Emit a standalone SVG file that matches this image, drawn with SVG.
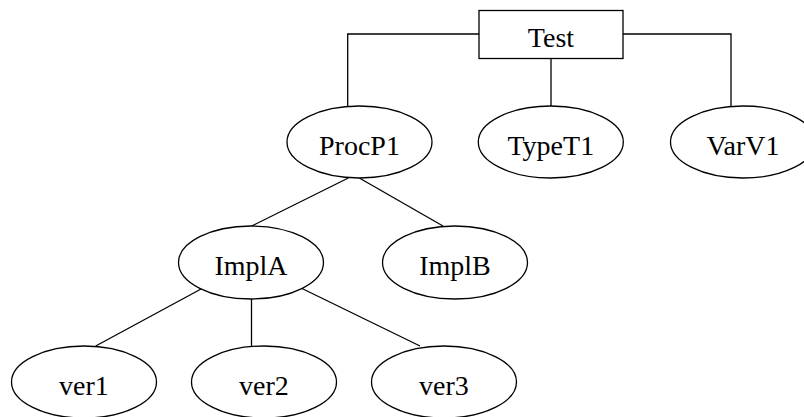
<svg xmlns="http://www.w3.org/2000/svg" width="804" height="417" viewBox="0 0 804 417">
<style>
.n{fill:#fff;stroke:#000;stroke-width:1.3}
.t{font-family:"Liberation Serif","Times New Roman",serif;font-size:28px;fill:#000;text-anchor:middle}
.e{fill:none;stroke:#000;stroke-width:1.3}
</style>
<rect width="804" height="417" fill="#fff"/>
<g id="connectors">
<polyline class="e" points="479,34 347.7,34 347.7,106.5"/>
<polyline class="e" points="623,34 731,34 731,106.5"/>
<line class="e" x1="551" y1="58.5" x2="551" y2="106"/>
<line class="e" x1="348.3" y1="178" x2="251.7" y2="226"/>
<line class="e" x1="359.3" y1="178" x2="443" y2="226"/>
<line class="e" x1="202" y1="288.5" x2="95.7" y2="346"/>
<line class="e" x1="251.5" y1="299" x2="251.5" y2="346"/>
<line class="e" x1="302" y1="288.5" x2="420" y2="346"/>
</g>
<g id="Test"><rect class="n" x="479" y="10.5" width="144" height="48"/><text class="t" x="551" y="46.5">Test</text></g>
<g id="ProcP1"><ellipse class="n" cx="359.5" cy="142" rx="72.5" ry="36"/><text class="t" x="359.5" y="155">ProcP1</text></g>
<g id="TypeT1"><ellipse class="n" cx="550.8" cy="142" rx="72.5" ry="36"/><text class="t" x="550.8" y="155">TypeT1</text></g>
<g id="VarV1"><ellipse class="n" cx="743" cy="142" rx="72.5" ry="36"/><text class="t" x="743" y="155">VarV1</text></g>
<g id="ImplA"><ellipse class="n" cx="251" cy="262.5" rx="72.5" ry="36.5"/><text class="t" x="251" y="275">ImplA</text></g>
<g id="ImplB"><ellipse class="n" cx="455" cy="262.5" rx="72.5" ry="36.5"/><text class="t" x="455" y="275">ImplB</text></g>
<g id="ver1"><ellipse class="n" cx="84" cy="382" rx="72.5" ry="36"/><text class="t" x="84" y="395">ver1</text></g>
<g id="ver2"><ellipse class="n" cx="264" cy="382" rx="72.5" ry="36"/><text class="t" x="264" y="395">ver2</text></g>
<g id="ver3"><ellipse class="n" cx="444" cy="382" rx="72.5" ry="36"/><text class="t" x="444" y="395">ver3</text></g>
</svg>
